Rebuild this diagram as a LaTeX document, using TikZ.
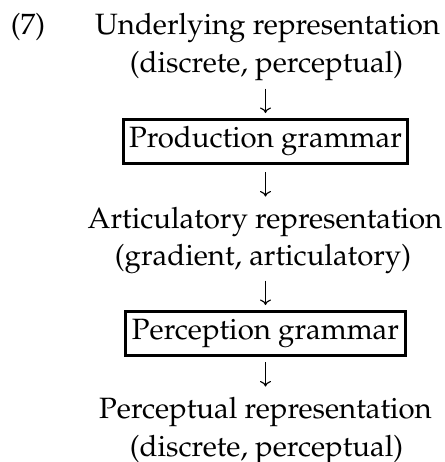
\documentclass[tikz,border=0pt]{standalone}
\usepackage[T1]{fontenc}
\usepackage{mathpazo}
\usetikzlibrary{arrows.meta}
\begin{document}
\begin{tikzpicture}[x=0.4pt,y=-0.4pt,
  txt/.style={inner sep=0pt,anchor=base,text height=8.6pt,text depth=3pt,font=\fontsize{11.75}{14}\selectfont},
  gbox/.style={draw,line width=1.2pt,inner sep=0pt,text height=8.2pt,text depth=3.4pt,minimum height=17.6pt,font=\fontsize{11.75}{14}\selectfont},
  arr/.style={line width=0.45pt,-{To[length=2.2pt,width=4.4pt]}}]
\useasboundingbox (0,0) rectangle (445,462);
\node[txt] (n7) at (28,34) {(7)};
\node[txt] (u1) at (267.5,34) {Underlying representation};
\node[txt] (u2) at (266.5,72) {(discrete, perceptual)};
\node[gbox,minimum width=113.6pt] (pg) at (265.5,141.5) {Production grammar};
\node[txt] (a1) at (265,228) {Articulatory representation};
\node[txt] (a2) at (263,265) {(gradient, articulatory)};
\node[gbox,minimum width=112pt] (cg) at (265.5,333.5) {Perception grammar};
\node[txt] (p1) at (265.5,418) {Perceptual representation};
\node[txt] (p2) at (266.5,456) {(discrete, perceptual)};
\draw[arr,shorten <=3.4pt,shorten >=2pt] (u2.south -| pg.north) -- (pg.north);
\draw[arr,shorten <=2.8pt,shorten >=3.8pt] (pg.south) -- (pg.south |- a1.north);
\draw[arr,shorten <=3pt,shorten >=2pt] (a2.south -| cg.north) -- (cg.north);
\draw[arr,shorten <=2pt,shorten >=3.8pt] (cg.south) -- (cg.south |- p1.north);
\end{tikzpicture}
\end{document}
